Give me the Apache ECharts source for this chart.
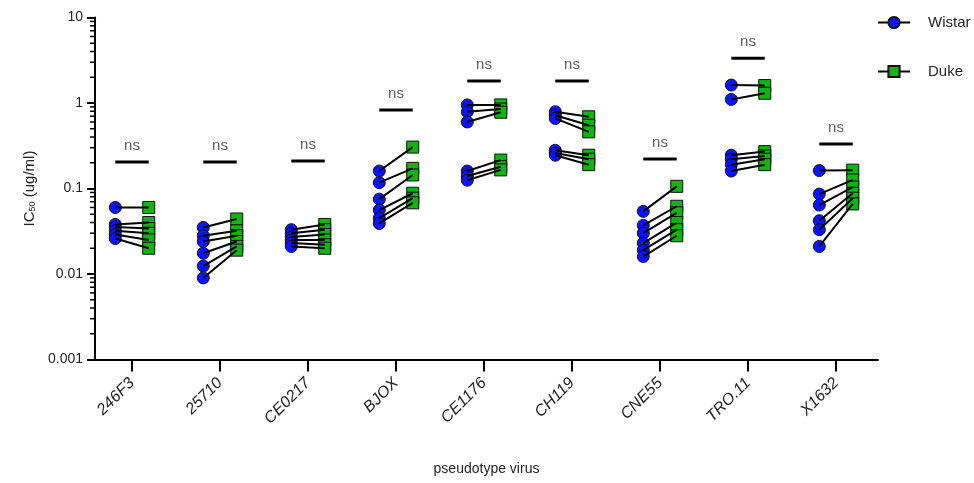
<!DOCTYPE html>
<html>
<head>
<meta charset="utf-8">
<script src="https://cdn.jsdelivr.net/npm/echarts@6/dist/echarts.min.js"></script>
<style>html,body{margin:0;padding:0;background:#fff;}#c{width:974px;height:483px;}</style>
</head>
<body>
<div id="c"></div>
<script>
const categories = ['246F3','25710','CE0217','BJOX','CE1176','CH119','CNE55','TRO.11','X1632'];
const wistar = [
  [0.060,0.038,0.0355,0.032,0.029,0.026],
  [0.035,0.028,0.024,0.0175,0.0124,0.009],
  [0.033,0.030,0.027,0.025,0.023,0.021],
  [0.16,0.117,0.075,0.056,0.045,0.039],
  [0.95,0.79,0.60,0.16,0.14,0.125],
  [0.79,0.72,0.66,0.28,0.26,0.245],
  [0.054,0.037,0.030,0.023,0.019,0.016],
  [1.62,1.10,0.245,0.22,0.19,0.16],
  [0.162,0.086,0.064,0.042,0.033,0.021]
];
const duke = [
  [0.060,0.040,0.034,0.030,0.025,0.020],
  [0.044,0.032,0.028,0.024,0.021,0.019],
  [0.038,0.033,0.029,0.025,0.022,0.020],
  [0.305,0.172,0.144,0.088,0.077,0.068],
  [0.95,0.85,0.78,0.215,0.18,0.165],
  [0.69,0.55,0.46,0.245,0.22,0.19],
  [0.106,0.062,0.052,0.040,0.033,0.028],
  [1.6,1.3,0.27,0.24,0.22,0.19],
  [0.164,0.126,0.104,0.088,0.077,0.066]
];
const sigLevels = [0.204,0.204,0.21,0.83,1.81,1.81,0.221,3.33,0.331];
const sigText = ['ns','ns','ns','ns','ns','ns','ns','ns','ns'];
const yMin = 0.001, yMax = 10;

const OFF = 0.19;
const xMin = -0.4205, xMax = 8.477;
const catIdx = categories.map((c,i)=>i);

const wData = [], dData = [], pairData = [], sigData = [], nsData = [];
categories.forEach((c,i)=>{
  wistar[i].forEach((v,j)=>{
    wData.push([i-OFF, v]);
    dData.push([i+OFF, duke[i][j]]);
    pairData.push([i-OFF, v],[i+OFF, duke[i][j]],'-');
  });
  sigData.push([i-OFF, sigLevels[i]],[i+OFF, sigLevels[i]],'-');
  nsData.push({value:[i, sigLevels[i]], name: sigText[i]});
});
const minorVals = [];
for (let k=-3;k<1;k++) for (let m=2;m<10;m++) minorVals.push([xMin, m*Math.pow(10,k)]);

const FONT = 'Liberation Sans, Arial, sans-serif';
const chart = echarts.init(document.getElementById('c'));
chart.setOption({
  animation:false,
  backgroundColor:'#fff',
  textStyle:{fontFamily:FONT},
  grid:{left:95,right:96,top:17.5,bottom:123.5,containLabel:false},
  legend:{
    orient:'vertical', left:872, top:10, itemWidth:32, itemHeight:14, itemGap:34,
    data:['Wistar','Duke'],
    textStyle:{fontSize:15,color:'#222',padding:[0,0,0,13],fontFamily:FONT},
    lineStyle:{color:'#000',width:2,opacity:1},
    selectedMode:false
  },
  xAxis:{
    type:'value', min:xMin, max:xMax,
    splitLine:{show:false},
    axisLine:{onZero:false,lineStyle:{color:'#000',width:2}},
    axisTick:{customValues:catIdx,length:12,lineStyle:{color:'#000',width:2}},
    axisLabel:{customValues:catIdx,rotate:45,fontStyle:'italic',fontSize:16,color:'#222',margin:21,
      formatter:v=>categories[Math.round(v)]},
    name:'pseudotype virus', nameLocation:'middle', nameGap:103,
    nameTextStyle:{fontSize:14,color:'#222'}
  },
  yAxis:{
    type:'log', logBase:10, min:yMin, max:yMax,
    splitLine:{show:false},
    axisLine:{onZero:false,lineStyle:{color:'#000',width:2}},
    axisTick:{length:8,lineStyle:{color:'#000',width:2}},
    axisLabel:{fontSize:14,color:'#222',margin:12},
    name:'IC{sub|50} (ug/ml)', nameLocation:'middle', nameGap:47, nameRotate:90,
    nameTextStyle:{fontSize:15,color:'#222',rich:{sub:{fontSize:9,color:'#222',padding:[6,0,0,0]}}}
  },
  series:[
    {type:'custom', name:'minor', silent:true, clip:false, data:minorVals, encode:{x:0,y:1}, z:1,
      renderItem:(params,api)=>{
        const p = api.coord([api.value(0), api.value(1)]);
        return {type:'line', shape:{x1:p[0]-5,y1:p[1],x2:p[0],y2:p[1]}, style:{stroke:'#000',lineWidth:1.5}};
      }},
    {type:'line', name:'Wistar', data:wData, symbol:'circle', symbolSize:12, z:3,
      lineStyle:{width:0,opacity:0}, itemStyle:{color:'#0a14ff',borderColor:'#111',borderWidth:1},
      emphasis:{disabled:true}, clip:false},
    {type:'line', name:'Duke', data:dData, symbol:'rect', symbolSize:12, z:3,
      lineStyle:{width:0,opacity:0}, itemStyle:{color:'#12b312',borderColor:'#111',borderWidth:1},
      emphasis:{disabled:true}, clip:false},
    {type:'line', name:'pairs', data:pairData, showSymbol:false, symbol:'none', z:4, silent:true,
      connectNulls:false, lineStyle:{color:'#000',width:2}, clip:false},
    {type:'line', name:'sig', data:sigData, showSymbol:false, symbol:'none', z:4, silent:true,
      connectNulls:false, lineStyle:{color:'#000',width:3}, clip:false},
    {type:'scatter', name:'nsText', data:nsData, symbolSize:1, z:4, silent:true,
      itemStyle:{color:'rgba(0,0,0,0)'},
      label:{show:true,position:'top',distance:8,formatter:p=>p.name,fontSize:15,color:'#333'}, clip:false}
  ]
});
</script>
</body>
</html>
